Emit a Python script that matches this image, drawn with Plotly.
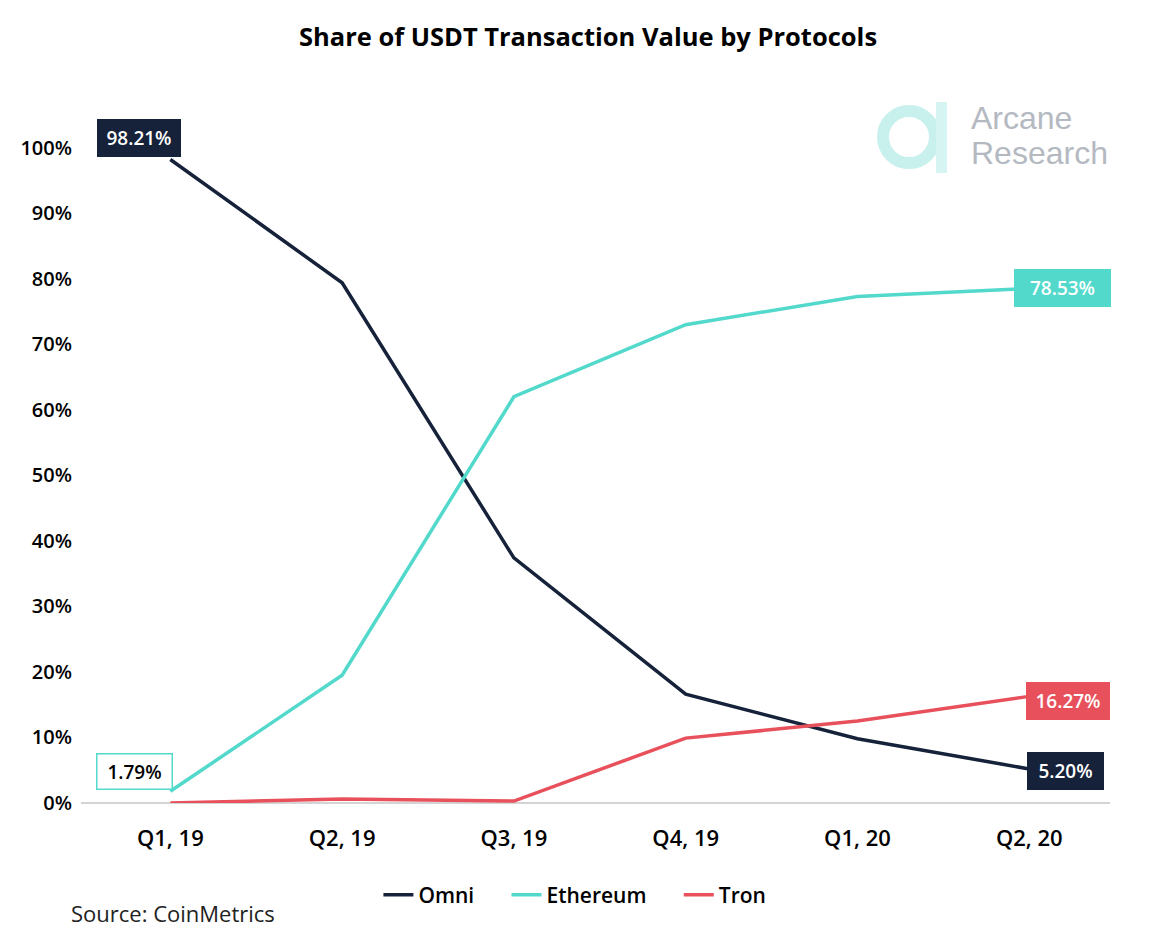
import plotly.graph_objects as go

quarters = ["Q1, 19", "Q2, 19", "Q3, 19", "Q4, 19", "Q1, 20", "Q2, 20"]
omni = [98.21, 79.4, 37.4, 16.6, 9.8, 5.20]
ethereum = [1.79, 19.5, 62.0, 73.0, 77.3, 78.53]
tron = [0.0, 0.6, 0.3, 9.9, 12.5, 16.27]

NAVY = "#15223a"
TEAL = "#52d9cb"
RED = "#e8515b"
FONT = "Open Sans"
GAP = "\u00a0" * 5   # extra space between legend entries

fig = go.Figure()
for name, vals, col in [("Omni", omni, NAVY), ("Ethereum", ethereum, TEAL), ("Tron", tron, RED)]:
    fig.add_trace(go.Scatter(x=quarters, y=vals, name=name + (GAP if name != "Tron" else ""),
                             mode="lines", line=dict(color=col, width=3.5)))

# end labels: (series, index, bg, border, text colour, xshift, yshift, box w, box h)
labels = [
    (omni, 0, NAVY, NAVY, "white", -31, 21, 84, 38),
    (ethereum, 0, "white", TEAL, "black", -36, 20, 77, 37),
    (ethereum, 5, TEAL, TEAL, "white", 33, 0, 97, 38),
    (tron, 5, RED, RED, "white", 39, -5, 84, 38),
    (omni, 5, NAVY, NAVY, "white", 36, -2, 77, 38),
]
for vals, i, bg, bd, tc, xs, ys, bw, bh in labels:
    fig.add_annotation(x=quarters[i], y=vals[i], text="%.2f%%" % vals[i], showarrow=False,
                       xshift=xs, yshift=ys, bgcolor=bg, bordercolor=bd, borderwidth=1.5,
                       borderpad=5, width=bw - 13, height=bh - 13,
                       font=dict(family=FONT, size=19, color=tc, weight=600))

fig.add_shape(type="circle", xref="paper", yref="paper",
              x0=(883 - 81) / 1029, x1=(935 - 81) / 1029,
              y0=(803 - 163) / 688, y1=(803 - 111) / 688,
              line=dict(color="#c8f0ec", width=12))
fig.add_shape(type="rect", xref="paper", yref="paper",
              x0=(936 - 81) / 1029, x1=(947 - 81) / 1029,
              y0=(803 - 173) / 688, y1=(803 - 102) / 688,
              fillcolor="#d6f4f1", line=dict(width=0))
fig.add_annotation(xref="paper", yref="paper", x=(970 - 81) / 1029, y=(803 - 137) / 688,
                   xanchor="left", yanchor="bottom", showarrow=False, borderpad=0,
                   text="Arcane", font=dict(family="Liberation Sans", size=32, color="#b4b9c1"))
fig.add_annotation(xref="paper", yref="paper", x=(970 - 81) / 1029, y=(803 - 134) / 688,
                   xanchor="left", yanchor="top", showarrow=False, borderpad=0,
                   text="Research", font=dict(family="Liberation Sans", size=32, color="#b4b9c1"))

fig.add_annotation(xref="paper", yref="paper", x=-11 / 1029, y=-110 / 688,
                   xanchor="left", yanchor="middle", showarrow=False, borderpad=0,
                   text="Source: CoinMetrics",
                   font=dict(family=FONT, size=22, color="#222222"))

# page body adds an 8px offset, so the figure is drawn 8px in from the top-left
fig.update_layout(
    width=1160, height=920,
    plot_bgcolor="white", paper_bgcolor="white",
    margin=dict(l=73, r=58, t=107, b=125),
    title=dict(text="Share of USDT Transaction Value by Protocols", x=0.5, xanchor="center",
               y=1 - 29 / 920, yanchor="middle",
               font=dict(family=FONT, size=25.5, color="black", weight=700)),
    xaxis=dict(showgrid=False, showline=False, zeroline=False, ticks="",
               range=[-0.52, 5.47], ticklabelstandoff=20,
               tickfont=dict(family=FONT, size=22, color="black", weight=600)),
    yaxis=dict(showgrid=False, zeroline=True, zerolinecolor="#d4d4d4", zerolinewidth=2,
               range=[0, 105], tickvals=list(range(0, 101, 10)),
               ticktext=["%d%%" % v for v in range(0, 101, 10)], ticklabelstandoff=8,
               tickfont=dict(family=FONT, size=20, color="black", weight=600)),
    legend=dict(orientation="h", x=0.48, xanchor="center", y=-0.134, yanchor="middle",
                font=dict(family=FONT, size=21, color="black", weight=600)),
)

fig.write_html("out.html")
